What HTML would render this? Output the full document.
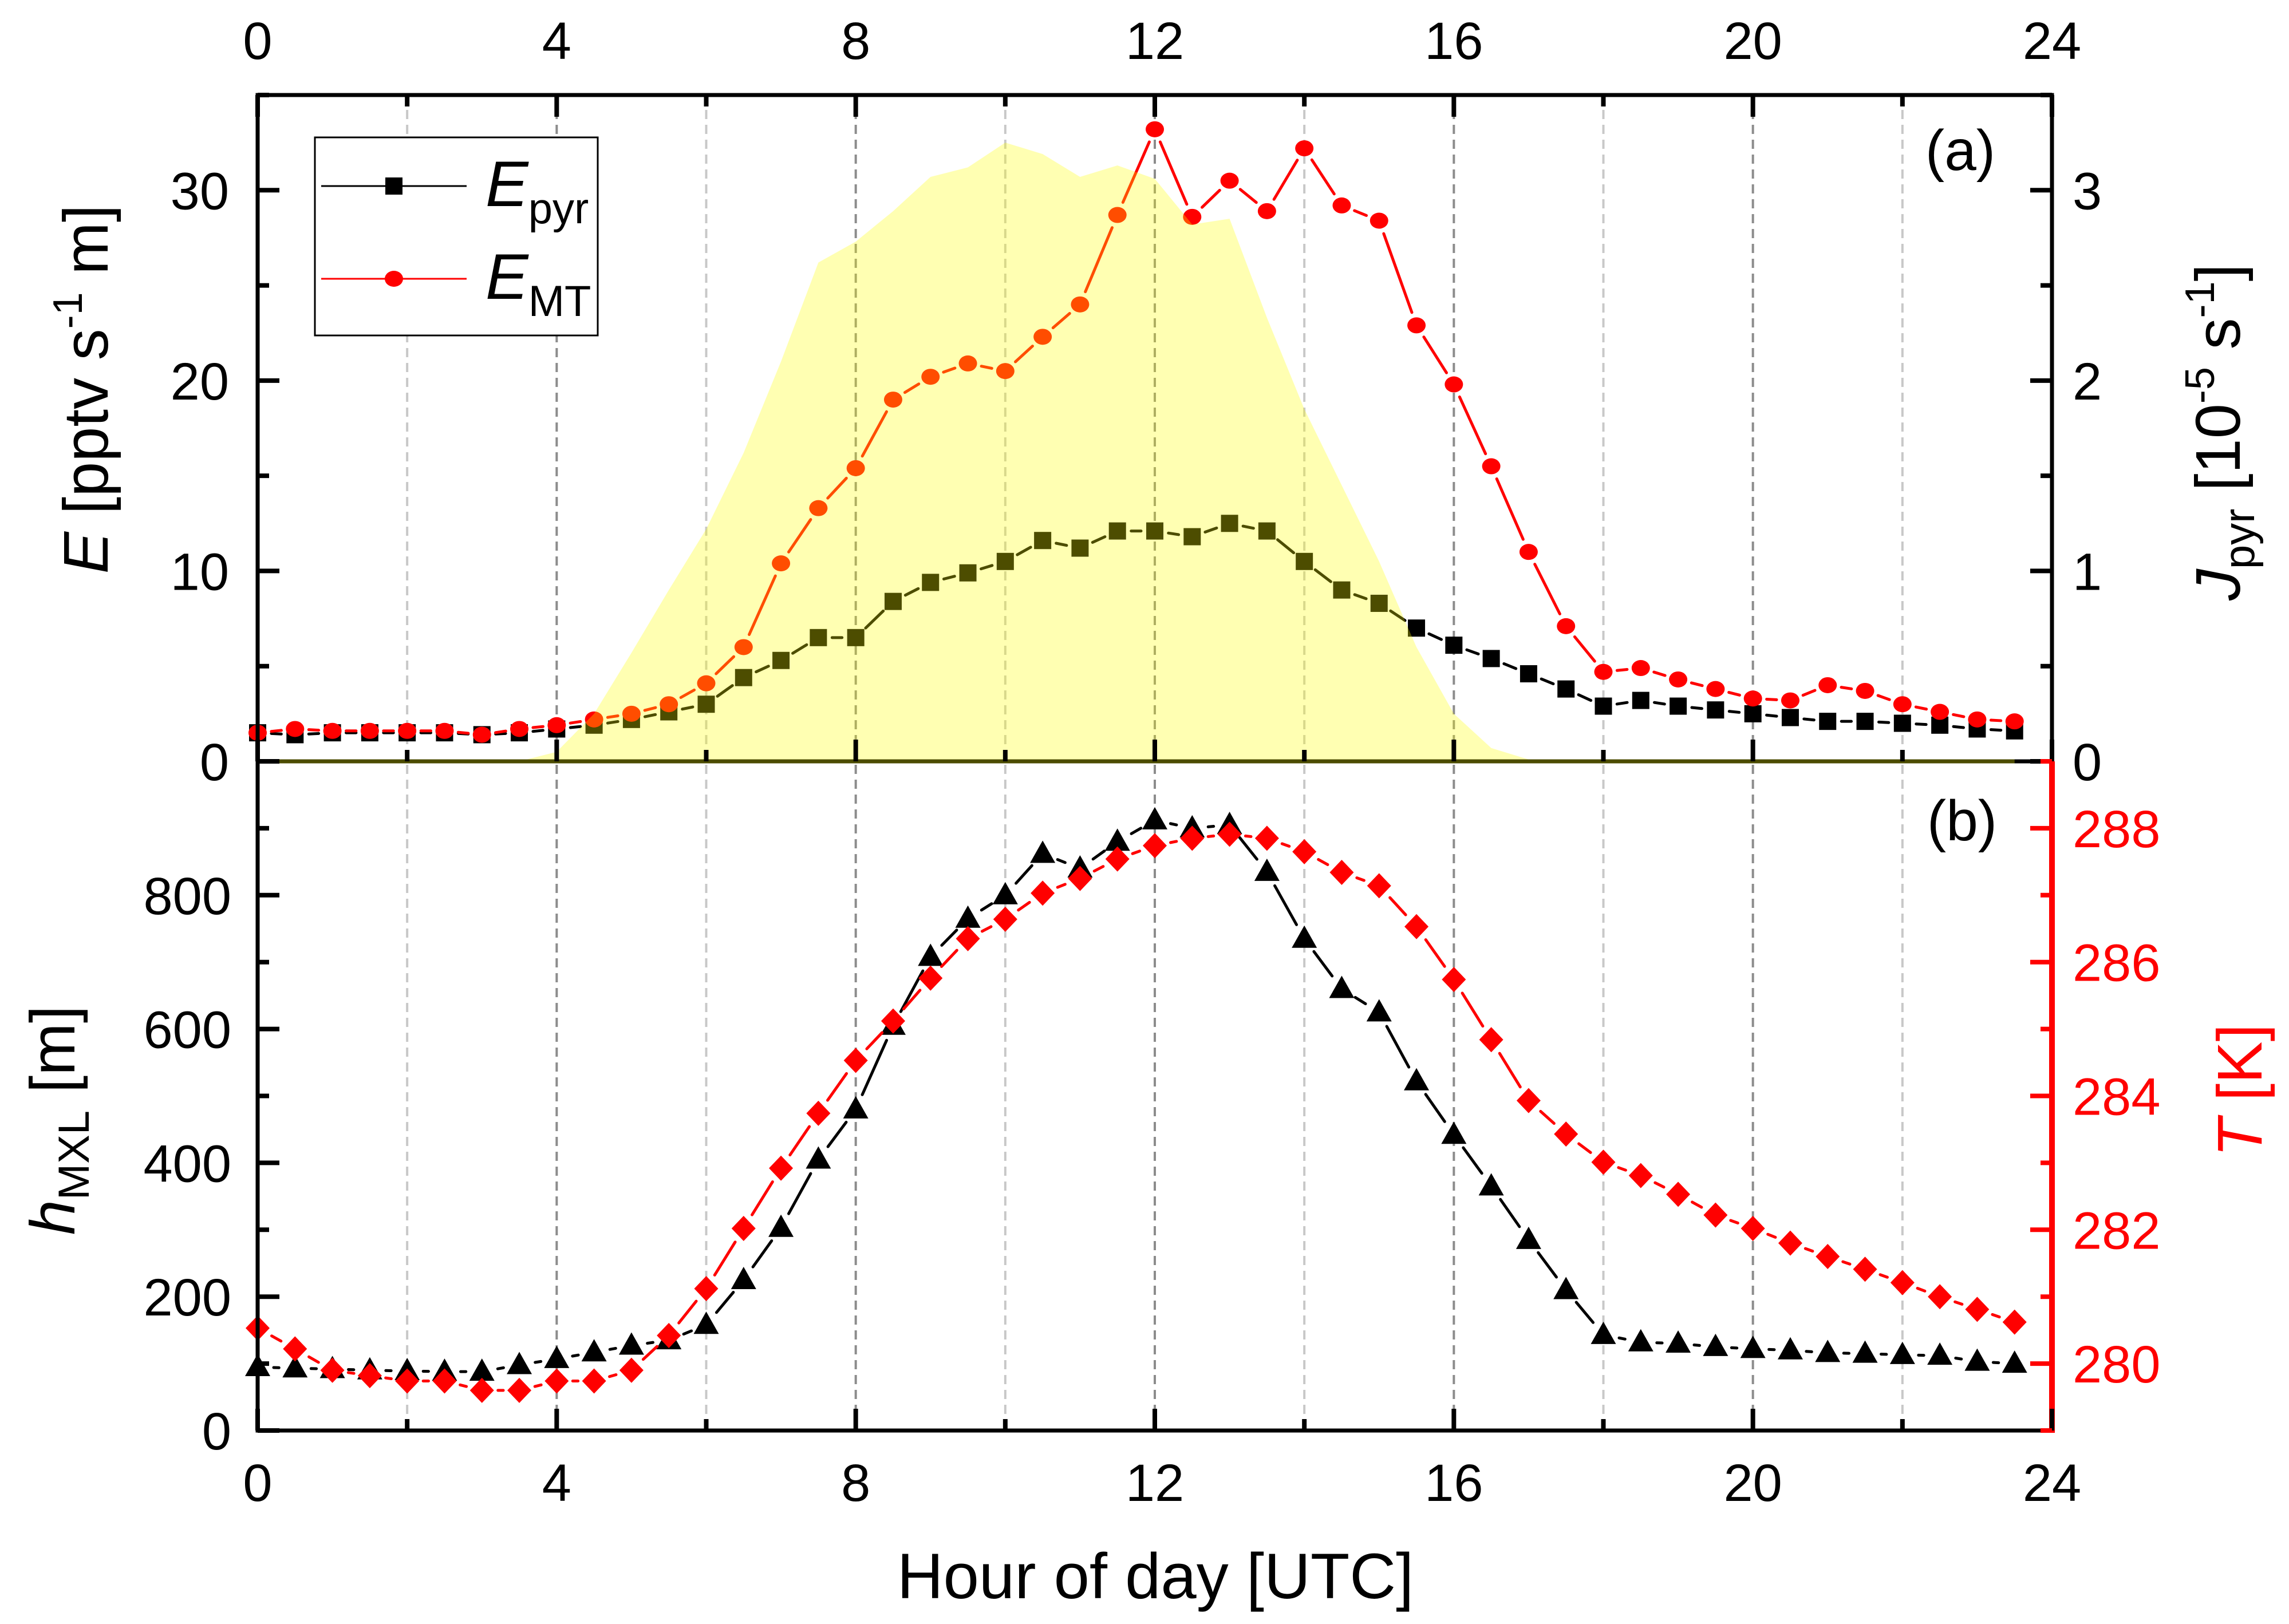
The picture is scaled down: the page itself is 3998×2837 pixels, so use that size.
<!DOCTYPE html>
<html><head><meta charset="utf-8">
<style>
html,body{margin:0;padding:0;background:#fff;}
svg{display:block;font-family:"Liberation Sans",sans-serif;}
</style></head>
<body>
<svg id="chart" xmlns="http://www.w3.org/2000/svg" width="3998" height="2837" viewBox="0 0 3998 2837">
<rect width="3998" height="2837" fill="#fff"/>
<g id="grid"></g>
<g id="topSeries"></g>
<g id="area"></g>
<g id="botSeries"></g>
<g id="axes"></g>
<g id="legend">
  <rect x="550" y="240" width="494" height="346" fill="#fff" stroke="#000" stroke-width="3"/>
  <line x1="561" y1="325" x2="815" y2="325" stroke="#000" stroke-width="3"/>
  <rect x="673" y="310" width="30" height="30" fill="#000"/>
  <text x="848" y="360" font-size="112" font-style="italic">E<tspan font-style="normal" font-size="76" dy="30">pyr</tspan></text>
  <line x1="561" y1="487" x2="815" y2="487" stroke="#f00" stroke-width="3"/>
  <ellipse cx="688" cy="487" rx="16" ry="14" fill="#f00"/>
  <text x="848" y="522" font-size="112" font-style="italic">E<tspan font-style="normal" font-size="76" dy="30">MT</tspan></text>
</g>
<text x="3424" y="297" font-size="100" text-anchor="middle">(a)</text>
<text x="3427" y="1468" font-size="100" text-anchor="middle">(b)</text>
<text transform="translate(188,680) rotate(-90)" font-size="110" text-anchor="middle"><tspan font-style="italic">E</tspan> [pptv s<tspan font-size="72" dy="-45">-1</tspan><tspan dy="45"> m]</tspan></text>
<text transform="translate(3912,755) rotate(-90)" font-size="110" text-anchor="middle"><tspan font-style="italic">J</tspan><tspan font-size="76" dy="25">pyr</tspan><tspan dy="-25"> [10</tspan><tspan font-size="72" dy="-45">-5</tspan><tspan dy="45"> s</tspan><tspan font-size="72" dy="-45">-1</tspan><tspan dy="45">]</tspan></text>
<text transform="translate(130,1957) rotate(-90)" font-size="110" text-anchor="middle"><tspan font-style="italic">h</tspan><tspan font-size="76" dy="25">MXL</tspan><tspan dy="-25"> [m]</tspan></text>
<text transform="translate(3950,1905) rotate(-90)" font-size="110" text-anchor="middle" fill="#f00"><tspan font-style="italic">T</tspan> [K]</text>
<text x="2018" y="2792" font-size="112" text-anchor="middle">Hour of day [UTC]</text>
</svg>
<script>
const hours = [0,0.5,1,1.5,2,2.5,3,3.5,4,4.5,5,5.5,6,6.5,7,7.5,8,8.5,9,9.5,10,10.5,11,11.5,12,12.5,13,13.5,14,14.5,15,15.5,16,16.5,17,17.5,18,18.5,19,19.5,20,20.5,21,21.5,22,22.5,23,23.5];
const ePyr = [1.5,1.4,1.5,1.5,1.5,1.5,1.4,1.5,1.7,1.9,2.2,2.6,3.0,4.4,5.3,6.5,6.5,8.4,9.4,9.9,10.5,11.6,11.2,12.1,12.1,11.8,12.5,12.1,10.5,9.0,8.3,7.0,6.1,5.4,4.6,3.8,2.9,3.2,2.9,2.7,2.5,2.3,2.1,2.1,2.0,1.9,1.7,1.6];
const eMT = [1.5,1.7,1.6,1.6,1.6,1.6,1.4,1.7,1.9,2.2,2.5,3.0,4.1,6.0,10.4,13.3,15.4,19.0,20.2,20.9,20.5,22.3,24.0,28.7,33.2,28.6,30.5,28.9,32.2,29.2,28.4,22.9,19.8,15.5,11.0,7.1,4.7,4.9,4.3,3.8,3.3,3.2,4.0,3.7,3.0,2.6,2.2,2.1];
const jPyr = [0,0,0,0,0,0,0,0,0.05,0.25,0.57,0.9,1.22,1.62,2.1,2.62,2.73,2.89,3.07,3.12,3.25,3.19,3.07,3.13,3.06,2.82,2.85,2.33,1.85,1.45,1.05,0.6,0.25,0.07,0.01,0,0,0,0,0,0,0,0,0,0,0,0,0];
const hMXL = [95,93,92,90,89,88,88,98,107,117,127,135,158,225,303,405,480,605,708,765,800,862,840,880,912,900,905,835,735,660,625,522,442,365,285,210,143,132,130,125,122,120,116,115,113,112,103,100];
const tempK = [280.53,280.22,279.9,279.82,279.74,279.74,279.6,279.6,279.74,279.74,279.9,280.42,281.12,282.02,282.92,283.74,284.53,285.12,285.76,286.35,286.64,287.03,287.25,287.54,287.74,287.85,287.91,287.85,287.65,287.34,287.14,286.53,285.74,284.84,283.93,283.43,283.01,282.81,282.53,282.22,282.02,281.8,281.6,281.41,281.21,281.0,280.81,280.62];
const xTicks = [0,4,8,12,16,20,24];
const eTicks = [0,10,20,30];
const jTicks = [0,1,2,3];
const hTicks = [0,200,400,600,800];
const tTicks = [280,282,284,286,288];

const NS='http://www.w3.org/2000/svg';
const X0=450,X1=3584,TOP=166,MID=1330,BOT=2499;
const xS=h=>X0+h*(X1-X0)/24;
const yE=v=>MID-v*(MID-TOP)/35;
const yJ=v=>MID-v*(MID-TOP)/3.5;
const yH=v=>BOT-v*(BOT-MID)/1000;
const yT=v=>BOT-(v-279)*(BOT-MID)/10;
function mk(tag,attrs,parent){const e=document.createElementNS(NS,tag);for(const k in attrs)e.setAttribute(k,attrs[k]);parent.appendChild(e);return e;}
const gridG=document.getElementById('grid'),topG=document.getElementById('topSeries'),areaG=document.getElementById('area'),botG=document.getElementById('botSeries'),axesG=document.getElementById('axes');

for(let h=2;h<=22;h+=2){
  const g=mk('line',{x1:xS(h),x2:xS(h),y1:TOP,y2:BOT,stroke:h%4===0?'#8c8c8c':'#c8c8c8','stroke-width':4,'stroke-dasharray':'16 10'},gridG);
  
  
}

function series(parent,ys,color,shape,gap,name){
  const pts=hours.map((h,i)=>[xS(h),ys[i]]);
  for(let i=0;i<pts.length-1;i++){
    const [x1,y1]=pts[i],[x2,y2]=pts[i+1];const d=Math.hypot(x2-x1,y2-y1);
    if(d<=2*gap+4)continue;const ux=(x2-x1)/d,uy=(y2-y1)/d;
    mk('line',{x1:x1+ux*gap,y1:y1+uy*gap,x2:x2-ux*gap,y2:y2-uy*gap,stroke:color,'stroke-width':5,'stroke-linecap':'round'},parent);
  }
  pts.forEach(([x,y])=>{
    let e;
    if(shape==='square')e=mk('rect',{x:x-15,y:y-15,width:30,height:30,fill:color},parent);
    else if(shape==='circle')e=mk('ellipse',{cx:x,cy:y,rx:16,ry:14,fill:color},parent);
    else if(shape==='tri')e=mk('polygon',{points:`${x},${y-23} ${x-22},${y+16} ${x+22},${y+16}`,fill:color},parent);
    else e=mk('polygon',{points:`${x},${y-22} ${x+21},${y} ${x},${y+22} ${x-21},${y}`,fill:color},parent);
    
    
  });
}
series(topG,ePyr.map(yE),'#000','square',24,'e-pyr');
series(topG,eMT.map(yE),'#f00','circle',24,'e-mt');
let pd=`M${xS(hours[0])},${yJ(0)}`;hours.forEach((h,i)=>{pd+=` L${xS(h)},${yJ(jPyr[i])}`;});pd+=` L${xS(hours[hours.length-1])},${yJ(0)} Z`;
const ap=mk('path',{d:pd,fill:'#ffff00','fill-opacity':0.3},areaG);


series(botG,hMXL.map(yH),'#000','tri',28,'h-mxl');
series(botG,tempK.map(yT),'#f00','diamond',28,'temperature');

mk('rect',{x:X0,y:TOP,width:X1-X0,height:BOT-TOP,fill:'none',stroke:'#000','stroke-width':7},axesG);
mk('line',{x1:X0,x2:X1,y1:MID,y2:MID,stroke:'#000','stroke-width':7},axesG);
mk('line',{x1:X0,x2:xS(23.5),y1:MID,y2:MID,stroke:'#4c4c00','stroke-width':7},axesG);
mk('line',{x1:X1,x2:X1,y1:MID,y2:BOT+4,stroke:'#f00','stroke-width':10},axesG);
function txt(x,y,s,anchor,color,name){const t=mk('text',{x:x,y:y,'font-size':92,'text-anchor':anchor,fill:color||'#000'},axesG);t.textContent=s;}
for(let h=0;h<=24;h+=2){
  const L=h%4===0?38:20,x=xS(h);
  mk('line',{x1:x,x2:x,y1:TOP,y2:TOP+L,stroke:'#000','stroke-width':8},axesG);
  mk('line',{x1:x,x2:x,y1:MID,y2:MID-L,stroke:'#000','stroke-width':8},axesG);
  mk('line',{x1:x,x2:x,y1:BOT,y2:BOT-L,stroke:'#000','stroke-width':8},axesG);
}
xTicks.forEach(h=>{txt(xS(h),103,String(h),'middle','#000','top-x-tick-label');txt(xS(h),2622,String(h),'middle','#000','x-tick-label');});
for(let v=0;v<=35;v+=5){const y=yE(v),L=v%10===0?38:20;mk('line',{x1:X0,x2:X0+L,y1:y,y2:y,stroke:'#000','stroke-width':8},axesG);}
eTicks.forEach(v=>txt(400,yE(v)+33,String(v),'end','#000','e-tick-label'));
for(let v=0;v<=3.5;v+=0.5){const y=yJ(v),L=Number.isInteger(v)?38:20;mk('line',{x1:X1,x2:X1-L,y1:y,y2:y,stroke:'#000','stroke-width':8},axesG);}
jTicks.forEach(v=>txt(3620,yJ(v)+33,String(v),'start','#000','j-tick-label'));
for(let v=0;v<=1000;v+=100){const y=yH(v),L=v%200===0?38:20;mk('line',{x1:X0,x2:X0+L,y1:y,y2:y,stroke:'#000','stroke-width':8},axesG);}
hTicks.forEach(v=>txt(404,yH(v)+33,String(v),'end','#000','h-tick-label'));
for(let v=279;v<=289;v+=1){const y=yT(v),L=v%2===0?38:20;mk('line',{x1:X1,x2:X1-L,y1:y,y2:y,stroke:'#f00','stroke-width':8},axesG);}
tTicks.forEach(v=>txt(3620,yT(v)+33,String(v),'start','#f00','t-tick-label'));
</script>
</body></html>
